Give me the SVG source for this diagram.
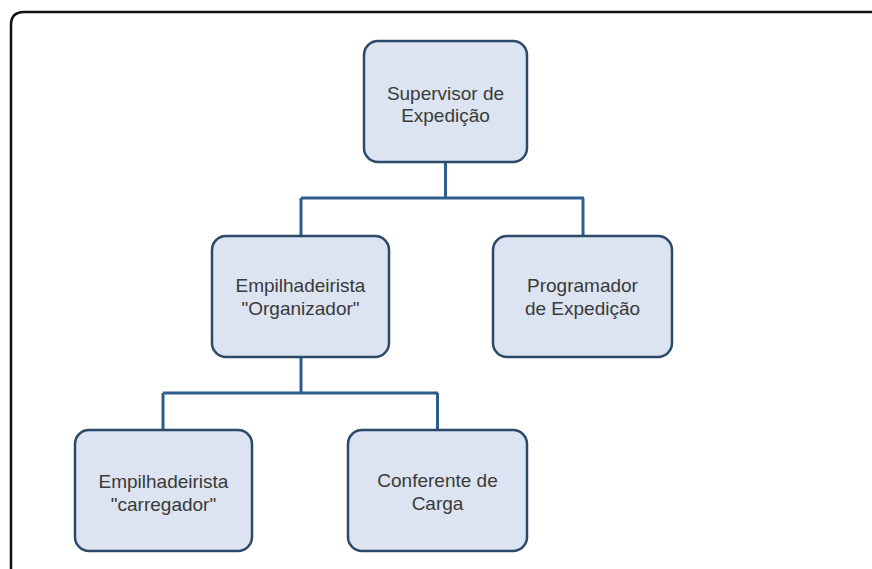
<svg xmlns="http://www.w3.org/2000/svg" width="872" height="569" viewBox="0 0 872 569">
<style>
.box{fill:#dbe4f0;stroke:#2c4a68;stroke-width:2.5}
.lbl{font-family:"Liberation Sans",Arial,sans-serif;font-size:19px;fill:#3a3a3a;text-anchor:middle}
.conn{fill:none;stroke:#2e5d8c;stroke-width:3}
</style>
<rect width="872" height="569" fill="#ffffff"/>
<path d="M11 569 V25 Q11 12 24 12 H872" fill="none" stroke="#111" stroke-width="2.5"/>
<g id="connectors">
<path class="conn" d="M445.5 162 V198 M301 198 H584 M301 198 V236 M583 198 V236"/>
<path class="conn" d="M301 357 V393 M163 393 H438 M163 393 V430 M437.5 393 V430"/>
</g>
<g id="supervisor">
<rect class="box" x="364" y="41" width="163" height="121" rx="14"/>
<text class="lbl" x="445.5" y="100">Supervisor de</text>
<text class="lbl" x="445.5" y="122">Expedição</text>
</g>
<g id="organizador">
<rect class="box" x="212" y="236" width="177" height="121" rx="14"/>
<text class="lbl" x="300.5" y="292">Empilhadeirista</text>
<text class="lbl" x="300.5" y="315">"Organizador"</text>
</g>
<g id="programador">
<rect class="box" x="493" y="236" width="179" height="121" rx="14"/>
<text class="lbl" x="582.5" y="292">Programador</text>
<text class="lbl" x="582.5" y="315">de Expedição</text>
</g>
<g id="carregador">
<rect class="box" x="75" y="430" width="177" height="121" rx="14"/>
<text class="lbl" x="163.5" y="488">Empilhadeirista</text>
<text class="lbl" x="163.5" y="511">"carregador"</text>
</g>
<g id="conferente">
<rect class="box" x="348" y="430" width="179" height="121" rx="14"/>
<text class="lbl" x="437.5" y="487">Conferente de</text>
<text class="lbl" x="437.5" y="510">Carga</text>
</g>
</svg>
